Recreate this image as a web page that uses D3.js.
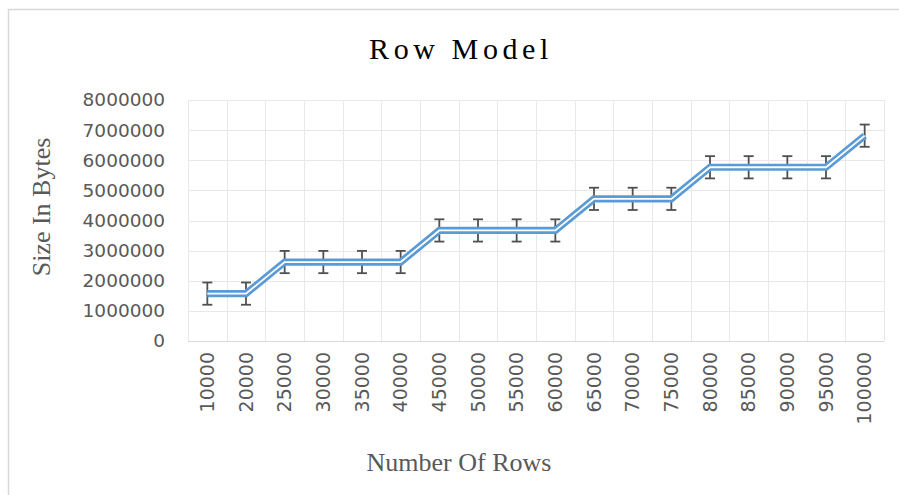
<!DOCTYPE html>
<html>
<head>
<meta charset="utf-8">
<script src="https://cdn.jsdelivr.net/npm/d3@7/dist/d3.min.js"></script>
<style>
  html, body { margin: 0; padding: 0; background: #fff; }
  svg { display: block; }
</style>
</head>
<body>
<svg id="chart" width="899" height="495"></svg>
<script>
// ---- data ----
const categories = ["10000","20000","25000","30000","35000","40000","45000","50000","55000","60000","65000","70000","75000","80000","85000","90000","95000","100000"];
const sizes = [1572864,1572864,2621440,2621440,2621440,2621440,3670016,3670016,3670016,3670016,4718592,4718592,4718592,5767168,5767168,5767168,5767168,6815744];
const errorValue = [369500];
const yTicks = [0,1000000,2000000,3000000,4000000,5000000,6000000,7000000,8000000];
const titleText = ["Row Model"];
const xTitleText = ["Number Of Rows"];
const yTitleText = ["Size In Bytes"];

// ---- layout ----
const W = 899, H = 495;
const plot = { left: 188, right: 884, top: 100, bottom: 341 };
const svg = d3.select("#chart");

// chart border
svg.append("path")
  .attr("d", `M8.5,${H+5} L8.5,9.5 L${W+5},9.5`)
  .attr("fill", "none").attr("stroke", "#d9d9d9").attr("stroke-width", 1.5);

const x = d3.scaleBand().domain(categories).range([plot.left, plot.right]).padding(0);
const y = d3.scaleLinear().domain([0, 8000000]).range([plot.bottom, plot.top]);

// horizontal gridlines
svg.append("g").selectAll("line").data(yTicks).join("line")
  .attr("x1", plot.left).attr("x2", plot.right)
  .attr("y1", d => Math.round(y(d)) + 0.5).attr("y2", d => Math.round(y(d)) + 0.5)
  .attr("stroke", d => d === 0 ? "#d9d9d9" : "#e8e8e8").attr("stroke-width", 1);

// vertical gridlines at band boundaries
const bounds = categories.map(c => x(c)).concat([plot.right]);
svg.append("g").selectAll("line").data(bounds).join("line")
  .attr("x1", d => Math.round(d) + 0.5).attr("x2", d => Math.round(d) + 0.5)
  .attr("y1", plot.top).attr("y2", plot.bottom)
  .attr("stroke", "#e8e8e8").attr("stroke-width", 1);

// y axis labels
const yAxis = d3.axisLeft(y).tickValues(yTicks).tickFormat(d3.format("d")).tickSize(0).tickPadding(23);
const gy = svg.append("g").attr("transform", `translate(${plot.left},0)`).call(yAxis);
gy.select(".domain").remove();
gy.selectAll("text").attr("fill", "#595959").attr("font-family", "DejaVu Sans").attr("font-size", "18.5px");

// x axis labels (rotated)
const xAxis = d3.axisBottom(x).tickSize(0).tickPadding(0);
const gx = svg.append("g").attr("transform", `translate(0,${plot.bottom})`).call(xAxis);
gx.select(".domain").remove();
gx.selectAll("text")
  .attr("fill", "#595959").attr("font-family", "DejaVu Sans").attr("font-size", "19px")
  .attr("transform", "rotate(-90)")
  .attr("text-anchor", "end")
  .attr("dy", "0.35em")
  .attr("x", -11).attr("y", 0);

// error bars
const cx = d => x.bandwidth() / 2 + x(d);
const eb = svg.append("g").attr("stroke", "#505050").attr("stroke-width", 1.8).attr("fill", "none");
categories.forEach((c, i) => {
  const xc = cx(c), v = sizes[i], e = errorValue[0];
  const yt = y(v + e), yb = y(v - e);
  eb.append("line").attr("x1", xc).attr("x2", xc).attr("y1", yt).attr("y2", yb);
  eb.append("line").attr("x1", xc - 5).attr("x2", xc + 5).attr("y1", yt).attr("y2", yt);
  eb.append("line").attr("x1", xc - 5).attr("x2", xc + 5).attr("y1", yb).attr("y2", yb);
});

// double line
const line = d3.line().x((d, i) => cx(categories[i])).y(d => y(d)).curve(d3.curveLinear);
svg.append("path").attr("d", line(sizes)).attr("fill", "none")
  .attr("stroke", "#5b9bd5").attr("stroke-width", 7.2).attr("stroke-linejoin", "miter");
svg.append("path").attr("d", line(sizes)).attr("fill", "none")
  .attr("stroke", "#ffffff").attr("stroke-width", 1.8).attr("stroke-linejoin", "miter");

// title
svg.append("text").text(titleText[0])
  .attr("x", 461).attr("y", 59).attr("text-anchor", "middle")
  .attr("font-family", "Liberation Serif").attr("font-size", "30px")
  .attr("letter-spacing", "4.6px").attr("fill", "#000");

// axis titles
svg.append("text").text(xTitleText[0])
  .attr("x", 459).attr("y", 471).attr("text-anchor", "middle")
  .attr("font-family", "Liberation Serif").attr("font-size", "26px").attr("fill", "#595959");

svg.append("text").text(yTitleText[0])
  .attr("transform", `translate(50,207) rotate(-90)`).attr("text-anchor", "middle")
  .attr("font-family", "Liberation Serif").attr("font-size", "26px").attr("fill", "#595959");
</script>
</body>
</html>
